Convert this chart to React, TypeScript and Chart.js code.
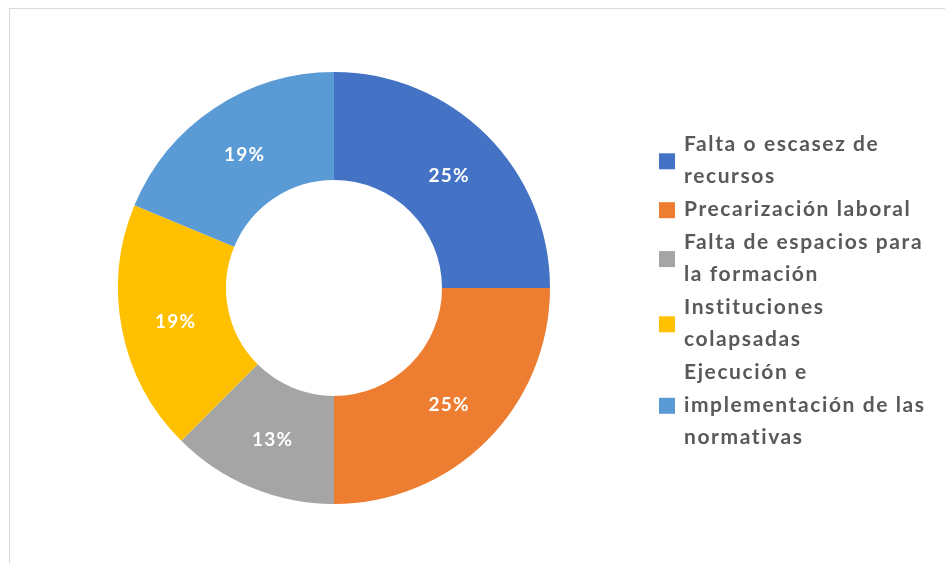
import React, { useEffect, useRef } from "react";
import { Chart, registerables } from "chart.js";

Chart.register(...registerables);

const categories: string[][] = [
  ["Falta o escasez de", "recursos"],
  ["Precarización laboral"],
  ["Falta de espacios para", "la formación"],
  ["Instituciones", "colapsadas"],
  ["Ejecución e", "implementación de las", "normativas"],
];
const values: number[] = [4, 4, 2, 3, 3];
const percentLabels: string[] = ["25%", "25%", "13%", "19%", "19%"];
const colors: string[] = ["#4472C4", "#ED7D31", "#A5A5A5", "#FFC000", "#5B9BD5"];

const FONT = "Lato, 'Open Sans', sans-serif";

const labelPlugin = {
  id: "sliceLabels",
  afterDatasetsDraw(chart: any) {
    const ctx = chart.ctx;
    const meta = chart.getDatasetMeta(0);
    ctx.save();
    ctx.fillStyle = "#ffffff";
    ctx.font = `bold 19px ${FONT}`;
    (ctx as any).letterSpacing = "1.2px";
    ctx.textAlign = "center";
    ctx.textBaseline = "middle";
    meta.data.forEach((arc: any, i: number) => {
      const p = arc.tooltipPosition();
      ctx.fillText(percentLabels[i], p.x + 0.6, p.y + 2);
    });
    ctx.restore();
  },
};

const legendPlugin = {
  id: "wrapLegend",
  afterDraw(chart: any) {
    const ctx = chart.ctx;
    const lineH = 32.6;
    const firstCenter = 144;
    const textX = 684;
    const boxX = 659;
    const boxSize = 16;
    ctx.save();
    ctx.font = `bold 21px ${FONT}`;
    (ctx as any).letterSpacing = "1.6px";
    ctx.textBaseline = "middle";
    ctx.textAlign = "left";
    let line = 0;
    categories.forEach((lines, i) => {
      const start = firstCenter + line * lineH;
      const end = firstCenter + (line + lines.length - 1) * lineH;
      const mid = (start + end) / 2;
      ctx.fillStyle = colors[i];
      ctx.fillRect(boxX, mid - boxSize / 2 + 1, boxSize, boxSize);
      ctx.fillStyle = "#595959";
      lines.forEach((t, j) => {
        ctx.fillText(t, textX, start + j * lineH);
      });
      line += lines.length;
    });
    ctx.restore();
  },
};

export default function App() {
  const ref = useRef<HTMLCanvasElement | null>(null);
  useEffect(() => {
    if (!ref.current) return;
    const chart = new Chart(ref.current, {
      type: "doughnut",
      data: {
        labels: categories.map((c) => c.join(" ")),
        datasets: [
          {
            data: values,
            backgroundColor: colors,
            borderWidth: 0,
          },
        ],
      },
      options: {
        animation: false,
        responsive: false,
        maintainAspectRatio: false,
        cutout: "50%",
        layout: { padding: { left: 118, right: 395, top: 72, bottom: 59 } },
        plugins: {
          legend: { display: false },
          tooltip: { enabled: false },
        },
      },
      plugins: [labelPlugin, legendPlugin],
    });
    return () => chart.destroy();
  }, []);
  return (
    <div style={{ position: "fixed", left: 0, top: 0, width: 945, height: 563, background: "#fff", overflow: "hidden" }}>
      <div
        style={{
          position: "absolute",
          left: 9,
          top: 8,
          width: 1000,
          height: 1000,
          border: "1px solid #d9d9d9",
          boxSizing: "border-box",
        }}
      />
      <canvas ref={ref} width={945} height={563} style={{ position: "absolute", left: 0, top: 0, width: 945, height: 563 }} />
    </div>
  );
}
